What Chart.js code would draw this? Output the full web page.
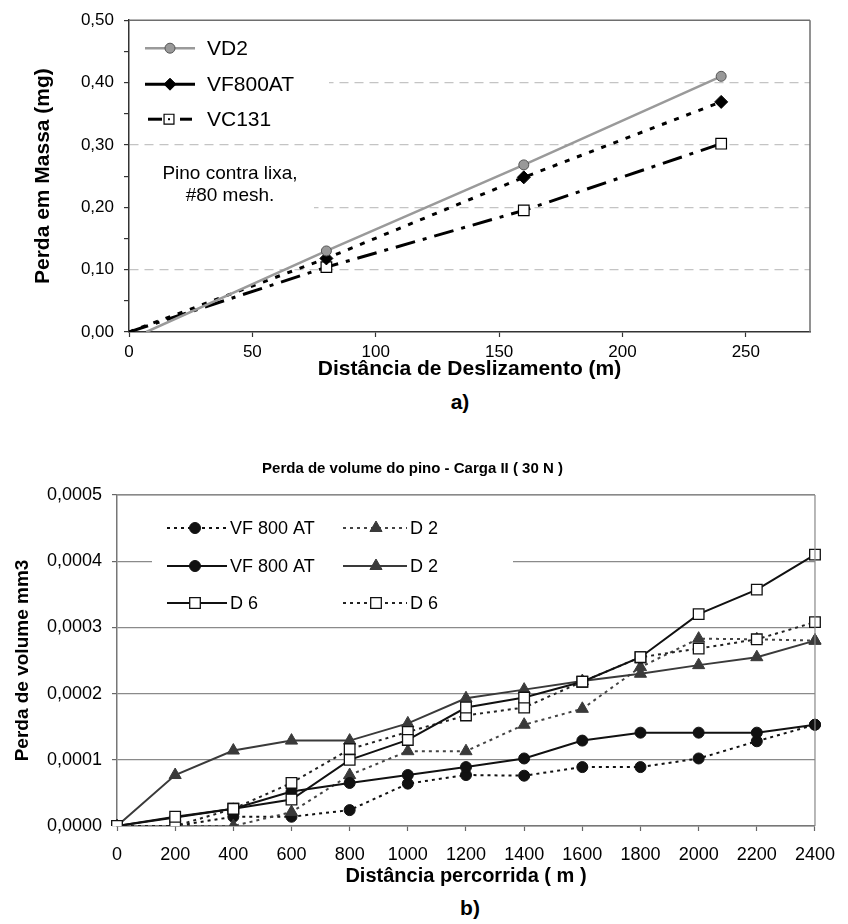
<!DOCTYPE html>
<html><head><meta charset="utf-8">
<script src="https://cdn.jsdelivr.net/npm/chart.js@4.4.1/dist/chart.umd.min.js"></script>
<style>
html,body{margin:0;padding:0;background:#fff;}
body{width:848px;height:924px;position:relative;overflow:hidden;font-family:"Liberation Sans",Arial,Helvetica,sans-serif;}
#wa{position:absolute;left:0;top:0;width:848px;height:390px;}
#wb{position:absolute;left:0;top:440px;width:848px;height:450px;}
.lab{position:absolute;font-weight:bold;font-size:21px;color:#000;transform:translate(-50%,-50%);white-space:nowrap;}
</style></head>
<body>
<div id="wa"><canvas id="ca" width="848" height="390"></canvas></div>
<div class="lab" style="left:460px;top:402px">a)</div>
<div id="wb"><canvas id="cb" width="848" height="450"></canvas></div>
<div class="lab" style="left:470px;top:908px">b)</div>
<script>
const FONT = '"Liberation Sans", Arial, Helvetica, sans-serif';

// ---------- Chart a) data ----------
const seriesNamesA = ['VD2', 'VF800AT', 'VC131'];
const vd2Dist = [7, 80, 160, 240];
const vd2Loss = [0, 0.130, 0.268, 0.410];
const vf800Dist = [0, 80, 160, 240];
const vf800Loss = [0, 0.118, 0.248, 0.369];
const vc131Dist = [0, 80, 160, 240];
const vc131Loss = [0, 0.104, 0.195, 0.302];
const xTicksA = [0, 50, 100, 150, 200, 250];
const yTicksA = [0, 0.1, 0.2, 0.3, 0.4, 0.5];
const noteA = ['Pino contra lixa,', '#80 mesh.'];

// ---------- Chart b) data ----------
const titleB = 'Perda de volume do pino - Carga II ( 30 N )';
const distB = ['0','200','400','600','800','1000','1200','1400','1600','1800','2000','2200','2400'];
const vf800Dotted = [0, 0, 0.000014, 0.000014, 0.000024, 0.000064, 0.000077, 0.000076, 0.000089, 0.000089, 0.000102, 0.000128, 0.000153];
const vf800Solid  = [0, 0.000013, 0.000026, 0.000052, 0.000065, 0.000077, 0.000089, 0.000102, 0.000129, 0.000141, 0.000141, 0.000141, 0.000153];
const d2Dotted    = [0, 0, 0, 0.000021, 0.000077, 0.000113, 0.000113, 0.000153, 0.000177, 0.000240, 0.000283, 0.000282, 0.000280];
const d2Solid     = [0, 0.000077, 0.000114, 0.000129, 0.000129, 0.000155, 0.000193, 0.000206, 0.000219, 0.000230, 0.000243, 0.000255, 0.000280];
const d6Solid     = [0, 0.000014, 0.000026, 0.000040, 0.000100, 0.000130, 0.000179, 0.000194, 0.000218, 0.000255, 0.000320, 0.000357, 0.000410];
const d6Dotted    = [0, 0, 0.000026, 0.000065, 0.000116, 0.000142, 0.000167, 0.000179, 0.000218, 0.000255, 0.000268, 0.000282, 0.000308];
const yTicksB = [0, 0.0001, 0.0002, 0.0003, 0.0004, 0.0005];

const toXY = (xs, ys) => xs.map((x, i) => ({x: x, y: ys[i]}));

function marker(ctx, style, x, y, r, fill, stroke, lw) {
  ctx.save();
  ctx.fillStyle = fill; ctx.strokeStyle = stroke; ctx.lineWidth = lw;
  ctx.setLineDash([]);
  Chart.helpers.drawPoint(ctx, {pointStyle: style, rotation: 0, radius: r, borderWidth: lw}, x, y);
  ctx.restore();
}
function seg(ctx, x1, y1, x2, y2, color, w, dash) {
  ctx.save();
  ctx.strokeStyle = color; ctx.lineWidth = w; ctx.setLineDash(dash || []);
  ctx.beginPath(); ctx.moveTo(x1, y1); ctx.lineTo(x2, y2); ctx.stroke();
  ctx.restore();
}

const frame = {
  id: 'frame',
  afterDraw(chart, args, opts) {
    const {ctx, chartArea: a} = chart;
    seg(ctx, a.left, a.top, a.right, a.top, opts.color, opts.width);
    seg(ctx, a.right, a.top, a.right, a.bottom, opts.color, opts.width);
  }
};

// ---------- Chart a) legend + note ----------
const legendA = {
  id: 'legendA',
  beforeDatasetsDraw(chart) {
    const {ctx, chartArea: a} = chart;
    const L = a.left, T = a.top;
    ctx.save();
    ctx.fillStyle = '#fff';
    ctx.fillRect(L + 1, T + 1, 199, 112);
    ctx.fillRect(L + 1, T + 141, 184, 52);
    const ds = chart.data.datasets;
    const rows = [28, 64, 99];
    seg(ctx, L + 16, T + rows[0], L + 66, T + rows[0], '#9a9a9a', 2.5);
    marker(ctx, 'circle', L + 41, T + rows[0], 5, '#999', '#555', 1);
    seg(ctx, L + 16, T + rows[1], L + 66, T + rows[1], '#000', 3);
    marker(ctx, 'rectRot', L + 41, T + rows[1], 6, '#000', '#000', 1);
    seg(ctx, L + 19, T + rows[2], L + 33, T + rows[2], '#000', 3);
    seg(ctx, L + 51, T + rows[2], L + 63, T + rows[2], '#000', 3);
    marker(ctx, 'rect', L + 40, T + rows[2], 7, '#fff', '#000', 1.2);
    ctx.fillStyle = '#000';
    ctx.fillRect(L + 39, T + rows[2] - 1, 2, 2);
    ctx.font = '21px ' + FONT;
    ctx.textBaseline = 'middle';
    ctx.textAlign = 'left';
    for (let i = 0; i < 3; i++) ctx.fillText(ds[i].label, L + 78, T + rows[i] + 1);
    ctx.font = '19px ' + FONT;
    ctx.textAlign = 'center';
    ctx.fillText(noteA[0], L + 101, T + 154);
    ctx.fillText(noteA[1], L + 101, T + 176);
    ctx.restore();
  }
};

const isMajorA = v => Math.round(v * 100) % 10 === 0;

new Chart(document.getElementById('ca'), {
  type: 'line',
  data: {
    datasets: [
      {label: seriesNamesA[0], data: toXY(vd2Dist, vd2Loss), borderColor: '#9a9a9a', borderWidth: 2.5,
       pointStyle: 'circle', pointRadius: c => c.dataIndex === 0 ? 0 : 5,
       pointBackgroundColor: '#999', pointBorderColor: '#555', pointBorderWidth: 1, order: 1},
      {label: seriesNamesA[1], data: toXY(vf800Dist, vf800Loss), borderColor: '#000', borderWidth: 3, borderDash: [5, 8],
       pointStyle: 'rectRot', pointRadius: c => c.dataIndex === 0 ? 0 : 6.5,
       pointBackgroundColor: '#000', pointBorderColor: '#000', pointBorderWidth: 1, order: 2},
      {label: seriesNamesA[2], data: toXY(vc131Dist, vc131Loss), borderColor: '#000', borderWidth: 3, borderDash: [20, 8, 4, 8],
       pointStyle: 'rect', pointRadius: c => c.dataIndex === 0 ? 0 : 7.5,
       pointBackgroundColor: '#fff', pointBorderColor: '#000', pointBorderWidth: 1.2, order: 3}
    ]
  },
  options: {
    responsive: false, animation: false, events: [],
    layout: {padding: {top: 19, right: 38, left: 0, bottom: 0}},
    plugins: {legend: {display: false}, title: {display: false}, tooltip: {enabled: false},
              frame: {color: '#6e6e6e', width: 1.5}},
    scales: {
      x: {
        type: 'linear', min: 0, max: 276,
        afterBuildTicks: s => { s.ticks = xTicksA.map(v => ({value: v})); },
        afterFit: s => { s.height = 58; },
        ticks: {font: {family: FONT, size: 17}, color: '#000', padding: 5, maxRotation: 0, autoSkip: false,
                callback: v => String(v)},
        grid: {display: true, drawOnChartArea: false, drawTicks: true, tickLength: 5, tickColor: '#333', tickWidth: 1.2},
        border: {display: true, color: '#333', width: 1.5},
        title: {display: true, text: 'Distância de Deslizamento (m)', color: '#000',
                font: {family: FONT, size: 21, weight: 'bold'}, padding: {top: 0, bottom: 8}}
      },
      y: {
        type: 'linear', min: 0, max: 0.5,
        afterBuildTicks: s => {
          const t = [];
          yTicksA.forEach((v, i) => { t.push({value: v}); if (i < yTicksA.length - 1) t.push({value: (v + yTicksA[i + 1]) / 2}); });
          s.ticks = t;
        },
        afterFit: s => { s.width = 129; },
        ticks: {font: {family: FONT, size: 17}, color: '#000', padding: 10, autoSkip: false,
                callback: v => isMajorA(v) ? v.toFixed(2).replace('.', ',') : ''},
        grid: {display: true, drawOnChartArea: true, drawTicks: true, tickLength: 5, tickWidth: 1.2,
               tickColor: '#333', tickBorderDash: [],
               color: c => (c.tick && isMajorA(c.tick.value) && c.tick.value > 0.001 && c.tick.value < 0.499) ? '#c4c4c4' : 'rgba(0,0,0,0)',
               lineWidth: 1.2},
        border: {display: true, color: '#333', width: 1.5, dash: [9, 6]},
        title: {display: true, text: 'Perda em Massa (mg)', color: '#000',
                font: {family: FONT, size: 21, weight: 'bold'}, padding: {top: 31, bottom: 0}}
      }
    }
  },
  plugins: [legendA, frame]
});

// ---------- Chart b) legend ----------
const legendB = {
  id: 'legendB',
  beforeDatasetsDraw(chart) {
    const {ctx, chartArea: a} = chart;
    const L = a.left, T = a.top;
    const ds = chart.data.datasets;
    ctx.save();
    ctx.fillStyle = '#fff';
    ctx.fillRect(L + 35, T + 13, 361, 109);
    const rows = [33, 71, 108];
    const cols = [{x1: 50, x2: 110, m: 78, t: 113}, {x1: 226, x2: 290, m: 259, t: 293}];
    const layout = [[0, 0, 0], [1, 0, 1], [2, 1, 0], [3, 1, 1], [4, 2, 0], [5, 2, 1]];
    ctx.font = '18px ' + FONT;
    ctx.textBaseline = 'middle';
    ctx.textAlign = 'left';
    layout.forEach(([di, r, c]) => {
      const d = ds[di];
      const y = T + rows[r];
      const col = cols[c];
      seg(ctx, L + col.x1, y, L + col.x2, y, d.borderColor, d.borderDash ? 1.8 : 2, d.borderDash || []);
      marker(ctx, d.pointStyle, L + col.m, y, d.pointRadius, d.pointBackgroundColor, d.pointBorderColor, d.pointBorderWidth);
      ctx.fillStyle = '#000';
      ctx.fillText(d.label, L + col.t, y + 1);
    });
    ctx.restore();
  }
};

const DOT = [3, 4];
new Chart(document.getElementById('cb'), {
  type: 'line',
  data: {
    labels: distB,
    datasets: [
      {label: 'VF 800 AT', data: vf800Dotted, borderColor: '#111', borderWidth: 2, borderDash: DOT,
       pointStyle: 'circle', pointRadius: 5.5, pointBackgroundColor: '#111', pointBorderColor: '#111', pointBorderWidth: 1, order: 6},
      {label: 'D 2', data: d2Dotted, borderColor: '#444', borderWidth: 2, borderDash: DOT,
       pointStyle: 'triangle', pointRadius: 7, pointBackgroundColor: '#3a3a3a', pointBorderColor: '#3a3a3a', pointBorderWidth: 1, order: 5},
      {label: 'VF 800 AT', data: vf800Solid, borderColor: '#111', borderWidth: 2,
       pointStyle: 'circle', pointRadius: 5.5, pointBackgroundColor: '#111', pointBorderColor: '#111', pointBorderWidth: 1, order: 4},
      {label: 'D 2', data: d2Solid, borderColor: '#3a3a3a', borderWidth: 2,
       pointStyle: 'triangle', pointRadius: 7, pointBackgroundColor: '#3a3a3a', pointBorderColor: '#3a3a3a', pointBorderWidth: 1, order: 3},
      {label: 'D 6', data: d6Solid, borderColor: '#111', borderWidth: 2,
       pointStyle: 'rect', pointRadius: 7.5, pointBackgroundColor: '#fff', pointBorderColor: '#111', pointBorderWidth: 1.3, order: 1},
      {label: 'D 6', data: d6Dotted, borderColor: '#222', borderWidth: 2, borderDash: DOT,
       pointStyle: 'rect', pointRadius: 7.5, pointBackgroundColor: '#fff', pointBorderColor: '#111', pointBorderWidth: 1.3, order: 2}
    ]
  },
  options: {
    responsive: false, animation: false, events: [],
    layout: {padding: {top: 0, right: 23, left: 0, bottom: 0}},
    plugins: {
      legend: {display: false}, tooltip: {enabled: false},
      title: {display: true, text: titleB, color: '#000', font: {family: FONT, size: 15, weight: 'bold'},
              padding: {top: 20, bottom: 17}},
      frame: {color: '#888', width: 1.2}
    },
    scales: {
      x: {
        type: 'category', offset: false,
        afterFit: s => { s.height = 64; },
        ticks: {font: {family: FONT, size: 18}, color: '#000', padding: 13, maxRotation: 0, autoSkip: false},
        grid: {display: true, drawOnChartArea: false, drawTicks: true, tickLength: 5, tickColor: '#666', tickWidth: 1.2},
        border: {display: true, color: '#777', width: 1.5},
        title: {display: true, text: 'Distância percorrida ( m )', color: '#000',
                font: {family: FONT, size: 20, weight: 'bold'}, padding: {top: 0, bottom: 2}}
      },
      y: {
        type: 'linear', min: 0, max: 0.0005,
        afterBuildTicks: s => { s.ticks = yTicksB.map(v => ({value: v})); },
        afterFit: s => { s.width = 117; },
        ticks: {font: {family: FONT, size: 18}, color: '#000', padding: 10, autoSkip: false,
                callback: v => v.toFixed(4).replace('.', ',')},
        grid: {display: true, drawOnChartArea: true, drawTicks: true, tickLength: 5, tickWidth: 1.2,
               tickColor: '#666', color: '#8a8a8a', lineWidth: 1.2},
        border: {display: true, color: '#777', width: 1.5},
        title: {display: true, text: 'Perda de volume mm3', color: '#000',
                font: {family: FONT, size: 19, weight: 'bold'}, padding: {top: 11, bottom: 0}}
      }
    }
  },
  plugins: [legendB, frame]
});
</script>
</body></html>
